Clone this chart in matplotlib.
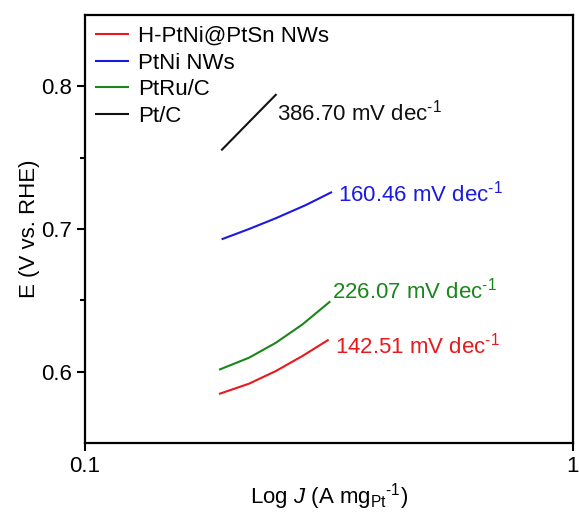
import matplotlib
matplotlib.use("Agg")
import matplotlib.pyplot as plt
from matplotlib.ticker import FixedLocator, NullLocator, FixedFormatter

plt.rcParams['font.family'] = ['Liberation Sans', 'DejaVu Sans']
plt.rcParams['mathtext.fontset'] = 'custom'
plt.rcParams['mathtext.rm'] = 'Liberation Sans'
plt.rcParams['mathtext.it'] = 'Liberation Sans:italic'
plt.rcParams['mathtext.bf'] = 'Liberation Sans:bold'

labels = ['H-PtNi@PtSn NWs', 'PtNi NWs', 'PtRu/C', 'Pt/C']
colors = ['#e8191c', '#1a1ae0', '#1a861a', '#111111']

red_x = [0.1892, 0.2171, 0.2462, 0.279, 0.3147]
red_y = [0.5846, 0.5916, 0.6004, 0.6109, 0.622]
blue_x = [0.1915, 0.2171, 0.2462, 0.2835, 0.3197]
blue_y = [0.693, 0.700, 0.7075, 0.7167, 0.7256]
green_x = [0.1892, 0.2171, 0.2462, 0.279, 0.3173]
green_y = [0.6016, 0.6098, 0.6202, 0.633, 0.6488]
black_x = [0.191, 0.2171, 0.2462]
black_y = [0.7556, 0.775, 0.794]

slopes = ['142.51', '160.46', '226.07', '386.70']
label_x = [0.325, 0.33, 0.321, 0.2477]
label_y = [0.618, 0.725, 0.657, 0.7816]

fig = plt.figure(figsize=(5.79, 5.15), dpi=100)
ax = fig.add_axes([0.1468, 0.1398, 0.8420, 0.8312])

series = [(red_x, red_y), (blue_x, blue_y), (green_x, green_y), (black_x, black_y)]
for (xs, ys), c, lab in zip(series, colors, labels):
    ax.plot(xs, ys, color=c, lw=1.5, label=lab)

for s, x, y, c in zip(slopes, label_x, label_y, colors):
    ax.text(x, y, s + ' mV dec$^{\\text{-}1}$', color=c, fontsize=16, va='center', ha='left')

ax.set_xscale('log')
ax.set_xlim(0.1, 1)
ax.set_ylim(0.55, 0.85)
ax.xaxis.set_major_locator(FixedLocator([0.1, 1]))
ax.xaxis.set_major_formatter(FixedFormatter(['0.1', '1']))
ax.xaxis.set_minor_locator(NullLocator())
ax.yaxis.set_major_locator(FixedLocator([0.6, 0.7, 0.8]))
ax.yaxis.set_minor_locator(FixedLocator([0.65, 0.75]))
ax.tick_params(axis='both', which='major', labelsize=16, width=1.5, length=6, direction='out')
ax.tick_params(axis='both', which='minor', width=1.5, length=3.5, direction='out')
for sp in ax.spines.values():
    sp.set_linewidth(1.6)

ax.set_xlabel('Log $J$ (A mg$_{\\mathrm{Pt}}$$^{\\text{-}1}$)', fontsize=16, labelpad=3)
ax.set_ylabel('E (V vs. RHE)', fontsize=16, labelpad=1)

ax.legend(loc='upper left', frameon=False, fontsize=16, handlelength=1.45,
          handletextpad=0.45, labelspacing=0.25, borderaxespad=0.3, borderpad=0.2)

fig.savefig('out.png', dpi=100)
